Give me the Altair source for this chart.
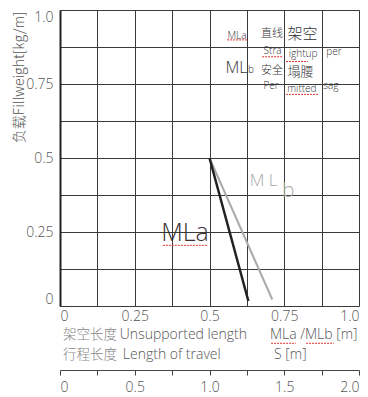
import altair as alt
import pandas as pd

# ---- data ----
mla_x = [0.5, 0.63]
mla_y = [0.5, 0.017]
mlb_x = [0.5, 0.71]
mlb_y = [0.5, 0.022]

grid_ticks = [0, 0.125, 0.25, 0.375, 0.5, 0.625, 0.75, 0.875, 1.0]
s_ticks = [0, 0.25, 0.5, 0.75, 1.0, 1.25, 1.5, 1.75, 2.0]

W, H = 299, 296
FONT = "Open Sans"
CJK = "Noto Sans CJK SC"
GREY = "#555555"
LIGHT = "#858585"

xs = alt.Scale(domain=[0, 1], nice=False, zero=False)
ys = alt.Scale(domain=[0, 1], nice=False, zero=False)

lab_expr = "datum.value == 1 ? '1.0' : (datum.value * 4 % 1 == 0 ? format(datum.value, '~g') : '')"

xaxis = alt.Axis(values=grid_ticks, grid=True, gridColor="#3a3a3a", gridWidth=1,
                 ticks=False, domain=False, labelExpr=lab_expr, labelFlush=True,
                 labelFont=FONT, labelFontSize=14, labelFontWeight=300, labelColor=GREY,
                 labelPadding=3, title=None, orient="bottom")
yaxis = alt.Axis(values=grid_ticks, grid=True, gridColor="#3a3a3a", gridWidth=1,
                 ticks=False, domain=True, domainColor="#222222", domainWidth=2,
                 labelExpr=lab_expr, labelFlush=True, labelFont=FONT, labelFontSize=14,
                 labelFontWeight=300, labelColor=GREY, labelPadding=7,
                 title="负载Fillweight[kg/m]", titleFont=CJK, titleFontSize=14,
                 titleFontWeight=300, titleColor=GREY, titleAngle=270, titleAlign="right",
                 titleBaseline="bottom", titleX=-34, titleY=1)

X = alt.X("x:Q", scale=xs, axis=xaxis)
Y = alt.Y("y:Q", scale=ys, axis=yaxis)


def line(xv, yv, color, width):
    df = pd.DataFrame({"x": xv, "y": yv})
    return alt.Chart(df).mark_line(color=color, strokeWidth=width, clip=False).encode(x=X, y=Y)


def label(text, x, y, size, color="#333333", font=FONT, weight=300, align="center"):
    df = pd.DataFrame({"x": [x], "y": [y], "t": [text]})
    kw = dict(fontSize=size, color=color, font=font, fontWeight=weight, align=align,
              baseline="middle", clip=False)
    return alt.Chart(df).mark_text(**kw).encode(x=X, y=Y, text="t:N")


def squiggle(x1, x2, y):
    df = pd.DataFrame({"x": [x1], "x2": [x2], "y": [y]})
    return alt.Chart(df).mark_rule(color="#dd3333", strokeWidth=1, strokeDash=[2, 1],
                                   clip=False).encode(x=X, x2="x2:Q", y=Y)


layers = [
    line(mlb_x, mlb_y, "#aaaaaa", 2),
    line(mla_x, mla_y, "#222222", 2.5),
    # big labels
    label("MLa", 0.418, 0.248, 25, color="#3a3333"),
    squiggle(0.344, 0.495, 0.205),
    label("M L", 0.681, 0.421, 17, color="#aaaaaa"),
    label("b", 0.763, 0.387, 21, color="#aaaaaa"),
    # legend block
    label("MLa", 0.592, 0.913, 10),
    squiggle(0.559, 0.625, 0.899),
    label("直线", 0.709, 0.918, 11, font=CJK),
    label("架空", 0.811, 0.918, 15, font=CJK),
    label("Stra", 0.711, 0.862, 10),
    squiggle(0.676, 0.746, 0.842),
    label("ightup", 0.813, 0.851, 10),
    squiggle(0.756, 0.829, 0.826),
    label("per", 0.916, 0.857, 10),
    label("ML", 0.590, 0.805, 16),
    label("b", 0.639, 0.797, 10),
    label("安全", 0.709, 0.795, 11, font=CJK),
    label("塌腰", 0.804, 0.792, 13, font=CJK),
    label("Per", 0.706, 0.742, 10),
    label("mitted", 0.809, 0.733, 10),
    squiggle(0.756, 0.863, 0.715),
    label("sag", 0.906, 0.742, 10),
    # axis titles
    label("架空长度", 0.010, -0.098, 13.5, color=LIGHT, align="left", font=CJK),
    label("Unsupported length", 0.200, -0.098, 14, color=GREY, align="left"),
    label("MLa /MLb [m]", 0.702, -0.098, 14, color=GREY, align="left"),
    squiggle(0.706, 0.789, -0.126),
    squiggle(0.823, 0.916, -0.126),
    label("行程长度", 0.010, -0.165, 13.5, color=LIGHT, align="left", font=CJK),
    label("Length of travel", 0.210, -0.165, 14, color=GREY, align="left"),
    label("S [m]", 0.716, -0.165, 14, color=GREY, align="left"),
]

primary = alt.layer(*layers)

s_expr = "datum.value * 2 % 1 == 0 ? (datum.value == 0 ? '0' : format(datum.value, '.1f')) : ''"
secondary = alt.Chart(pd.DataFrame({"s": s_ticks})).mark_point(opacity=0).encode(
    x=alt.X("s:Q", scale=alt.Scale(domain=[0, 2], nice=False, zero=False),
            axis=alt.Axis(orient="bottom", offset=64, values=s_ticks, grid=False,
                          ticks=True, tickSize=5, tickWidth=1, tickColor="#444444",
                          domain=True, domainColor="#444444", labelExpr=s_expr,
                          labelFlush=True, labelFont=FONT, labelFontSize=14,
                          labelFontWeight=300, labelColor=GREY, labelPadding=5,
                          title=None))
)

chart = alt.layer(primary, secondary).resolve_scale(x="independent").properties(
    width=W, height=H,
    autosize=alt.AutoSizeParams(type="none"),
    padding={"left": 52, "top": 2, "right": 1, "bottom": 91},
).configure_view(stroke=None).configure(background="white")

chart.save("out.html", embed_options={"renderer": "svg", "actions": False})
